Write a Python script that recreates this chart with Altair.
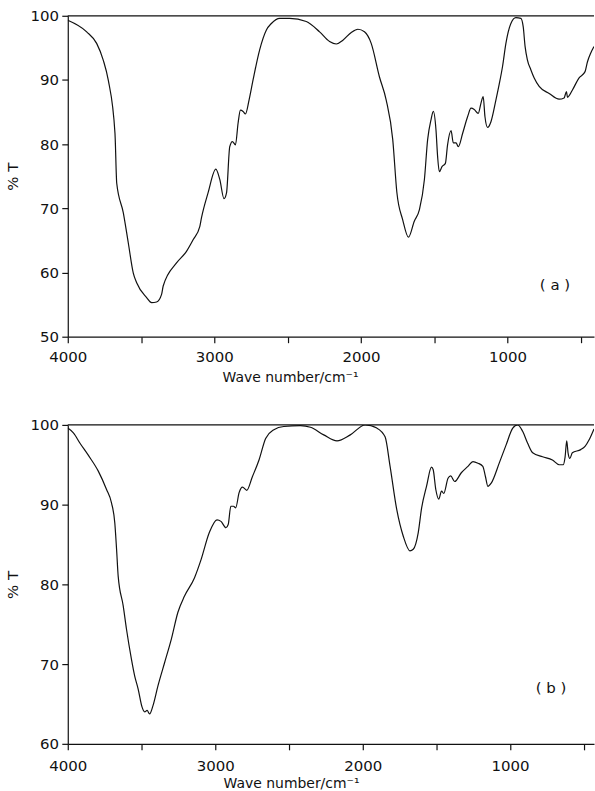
import altair as alt
import pandas as pd

# ---------------- data ----------------
wave_a = [4000, 3871, 3803, 3758, 3724, 3678, 3666, 3621, 3587, 3553, 3530, 3462, 3428,
          3394, 3360, 3349, 3258, 3190, 3145, 3099, 3088, 3043, 2990, 2963, 2934, 2917,
          2895, 2877, 2856, 2838, 2822, 2804, 2788, 2763, 2736, 2691, 2645, 2611, 2554,
          2486, 2373, 2282, 2214, 2168, 2123, 2066, 2021, 1976, 1930, 1874, 1828, 1783,
          1755, 1715, 1676, 1636, 1601, 1567, 1545, 1522, 1506, 1488, 1477, 1465, 1447,
          1424, 1409, 1385, 1370, 1351, 1336, 1306, 1272, 1249, 1227, 1200, 1181, 1166,
          1154, 1136, 1113, 1079, 1057, 1034, 1011, 977, 943, 909, 893, 880, 864, 841,
          818, 784, 716, 648, 614, 598, 591, 558, 513, 471, 455, 432, 410]
trans_a = [99.3, 97.5, 95.7, 93.1, 90.0, 81.7, 73.9, 69.3, 64.6, 59.9, 58.4, 56.1, 55.3,
           55.4, 56.6, 57.9, 61.5, 63.3, 65.1, 67.2, 68.5, 72.4, 76.1, 74.5, 71.5, 72.4,
           79.6, 80.4, 79.9, 83.3, 85.3, 85.1, 84.7, 86.9, 90.0, 94.7, 97.8, 98.8, 99.6,
           99.6, 99.1, 97.5, 96.0, 95.6, 96.2, 97.4, 97.9, 97.5, 95.7, 90.5, 86.9, 80.7,
           72.5, 68.2, 65.5, 68.0, 69.8, 74.5, 80.7, 83.8, 85.1, 82.2, 78.1, 75.7, 76.5,
           77.0, 79.9, 82.1, 80.2, 80.2, 79.6, 81.7, 84.3, 85.6, 85.4, 84.8, 86.4, 87.4,
           84.3, 82.6, 83.5, 86.9, 89.3, 92.1, 95.7, 98.8, 99.7, 99.6, 98.3, 95.2, 93.1,
           91.6, 90.3, 89.0, 87.9, 87.0, 87.2, 88.2, 87.3, 88.4, 90.3, 91.3, 92.8, 94.2,
           95.2]

wave_b = [4000, 3962, 3917, 3861, 3793, 3737, 3703, 3681, 3669, 3658, 3624, 3602, 3568,
          3546, 3523, 3496, 3478, 3462, 3445, 3422, 3388, 3343, 3298, 3253, 3209, 3141,
          3096, 3040, 2988, 2961, 2927, 2912, 2894, 2876, 2861, 2838, 2815, 2786, 2748,
          2703, 2658, 2602, 2535, 2422, 2354, 2264, 2174, 2084, 1983, 1904, 1848, 1814,
          1769, 1724, 1679, 1657, 1623, 1600, 1567, 1533, 1522, 1504, 1484, 1465, 1450,
          1421, 1403, 1376, 1331, 1286, 1252, 1218, 1185, 1167, 1151, 1128, 1072, 1027,
          982, 949, 915, 881, 847, 780, 713, 667, 640, 627, 616, 607, 595, 578, 521, 492,
          465, 431]
trans_b = [99.6, 99.0, 97.7, 96.2, 94.2, 91.9, 90.2, 87.7, 84.4, 81.0, 77.3, 74.4, 70.6,
           68.5, 66.9, 64.6, 64.0, 64.2, 63.75, 64.8, 67.3, 70.2, 73.1, 76.5, 78.5, 80.8,
           83.1, 86.5, 88.1, 87.9, 87.1, 87.5, 89.8, 89.8, 89.6, 91.5, 92.2, 91.8, 93.5,
           95.6, 98.3, 99.4, 99.8, 99.9, 99.7, 98.75, 98.0, 98.75, 100.0, 99.6, 98.5, 94.8,
           89.4, 86.0, 84.2, 84.4, 86.5, 89.6, 92.3, 94.7, 94.4, 91.9, 90.7, 91.7, 91.4,
           93.3, 93.6, 92.9, 94.0, 94.8, 95.4, 95.2, 94.8, 93.5, 92.3, 92.7, 95.3, 97.5,
           99.6, 100.0, 99.2, 97.7, 96.5, 96.0, 95.6, 95.0, 95.0, 96.0, 98.0, 96.5, 95.8,
           96.5, 96.9, 97.3, 98.1, 99.5]

x_ticks = [4000, 3750, 3500, 3250, 3000, 2750, 2500, 2250, 2000, 1750, 1500, 1250,
           1000, 750, 500]
y_ticks_a = [50, 60, 70, 80, 90, 100]
y_ticks_b = [60, 70, 80, 90, 100]

panel_labels = ["( a )", "( b )"]
label_pos_a = {"w": 676, "t": 58.0}
label_pos_b = {"w": 722, "t": 67.0}

FONT = "DejaVu Sans"
INK = "#111111"


def panel(wave, trans, x_dom, y_dom, y_ticks, label, lpos, w, h, lab_pad, title_x, title_y):
    df = pd.DataFrame({"w": wave, "t": trans})
    xs = alt.Scale(domain=x_dom, reverse=True, nice=False, zero=False)
    ys = alt.Scale(domain=y_dom, nice=False, zero=False)
    xax = alt.Axis(values=x_ticks, labelExpr="datum.value % 1000 === 0 ? datum.value : ''",
                   title="Wave number/cm⁻¹", titleX=title_x, titleY=title_y,
                   titleBaseline="alphabetic", titleAlign="center", titleFontSize=14,
                   labelFlush=False, labelOverlap=False, labelPadding=lab_pad,
                   tickSize=6, grid=False)
    yax = alt.Axis(values=y_ticks, title="% T", tickSize=6, labelPadding=3.2,
                   titlePadding=9.5, grid=False)
    line = alt.Chart(df).mark_line(color=INK, strokeWidth=1.2, clip=True,
                                   interpolate="monotone").encode(
        x=alt.X("w:Q", scale=xs, axis=xax),
        y=alt.Y("t:Q", scale=ys, axis=yax),
        order=alt.Order("w:Q", sort="descending"),
    )
    top = alt.Chart(pd.DataFrame({"t": [y_dom[1]]})).mark_rule(color=INK, strokeWidth=1.2).encode(
        y=alt.Y("t:Q", scale=ys)
    )
    txt = alt.Chart(pd.DataFrame({"w": [lpos["w"]], "t": [lpos["t"]], "s": [label]})).mark_text(
        font=FONT, fontSize=15, color=INK
    ).encode(x=alt.X("w:Q", scale=xs), y=alt.Y("t:Q", scale=ys), text="s:N")
    return alt.layer(line, top, txt).properties(width=w, height=h)


pa = panel(wave_a, trans_a, [410, 4000], [50, 100], y_ticks_a, panel_labels[0], label_pos_a,
           528, 322, 7, 223, 45)
pb = panel(wave_b, trans_b, [431, 4000], [60, 100], y_ticks_b, panel_labels[1], label_pos_b,
           528, 320, 9, 224, 44)

chart = alt.vconcat(pa, pb, spacing=33.5).properties(
    padding={"left": 5, "top": 7.5, "right": 0, "bottom": 0},
    background="white",
).configure_view(stroke=None).configure_axis(
    domainColor=INK, domainWidth=1.2, tickColor=INK, tickWidth=1.2,
    labelColor=INK, titleColor=INK, labelFont=FONT, titleFont=FONT,
    labelFontSize=15, titleFontSize=15, titleFontWeight="normal",
)

chart.save("out.html", embed_options={"renderer": "svg", "actions": False})
